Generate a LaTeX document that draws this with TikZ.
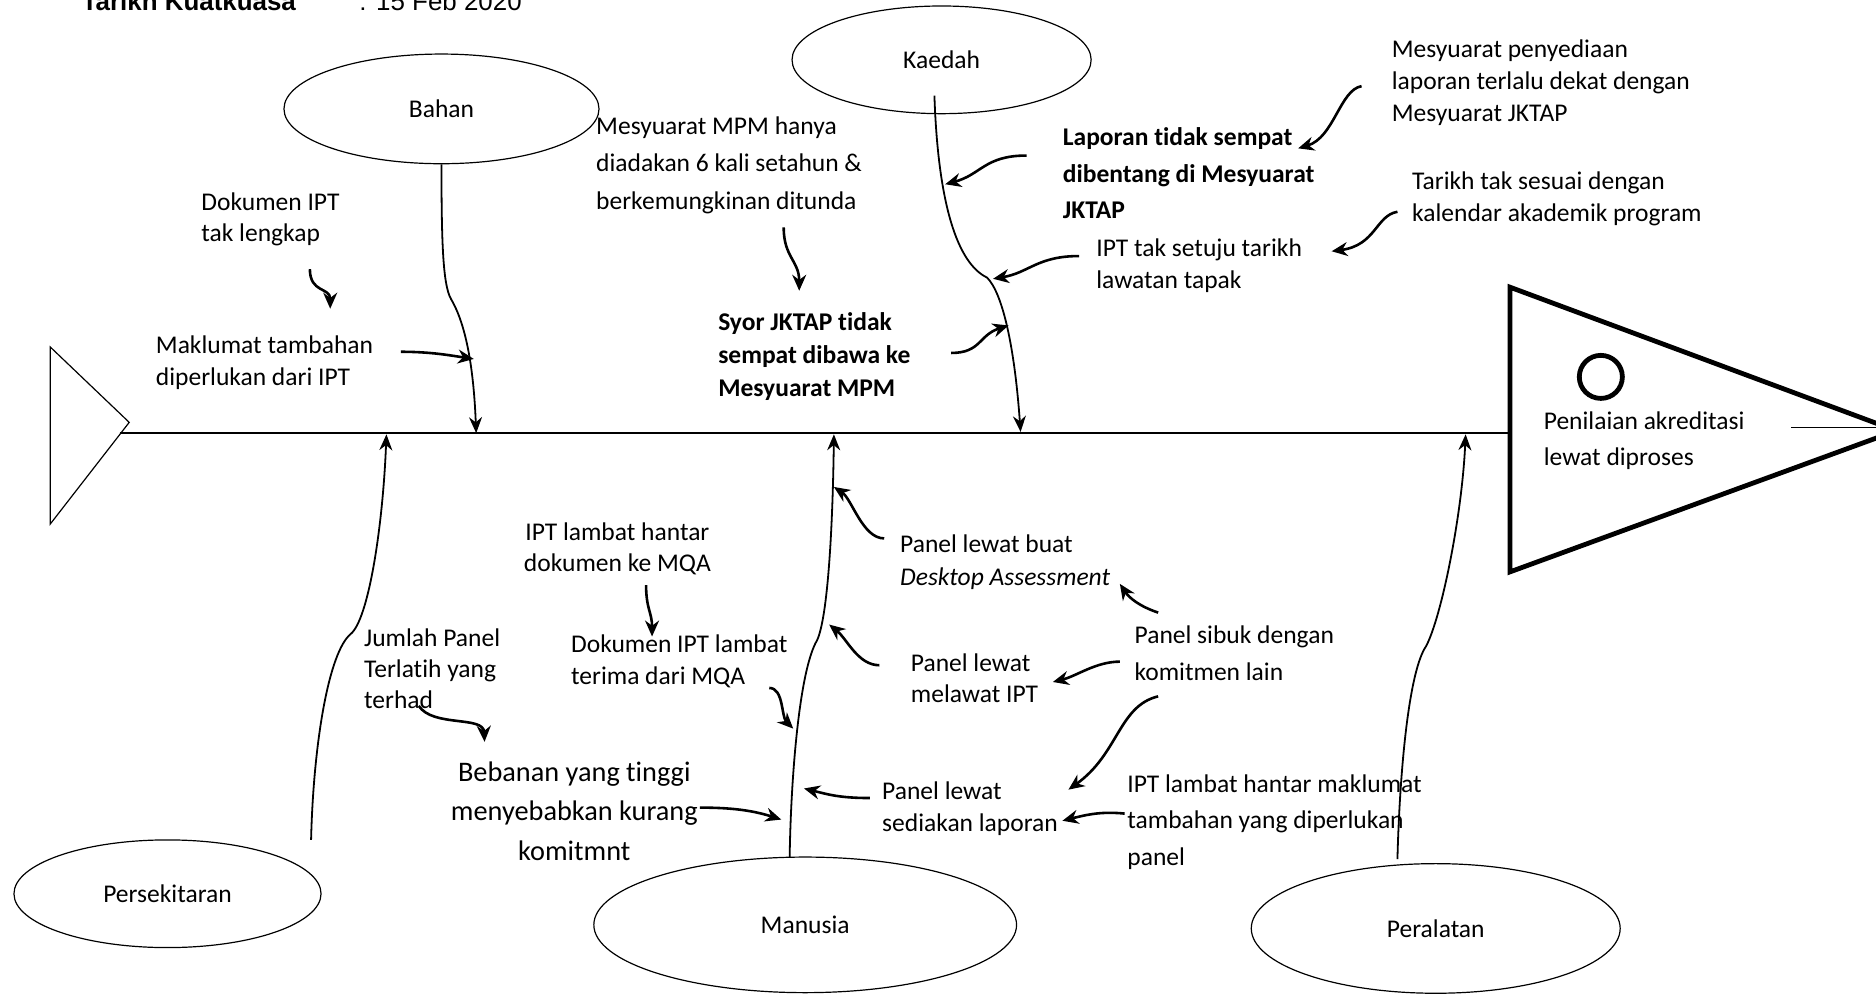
\documentclass[tikz,border=0pt]{standalone}
\usepackage{fontspec}
\setmainfont{Carlito}[Ligatures=NoCommon]
\newfontfamily\headfont{Liberation Sans}
\usetikzlibrary{shapes.geometric,arrows.meta}

\tikzset{
  category/.style={draw, ellipse, line width=0.6pt, inner sep=0pt,
    font=\fontsize{12.8}{15}\selectfont},
  causetxt/.style={align=left, anchor=west, inner sep=0pt,
    font=\fontsize{12.8}{#1}\selectfont},
  causetxt/.default=16,
  boldtxt/.style={align=left, anchor=west, inner sep=0pt,
    font=\bfseries\fontsize{12.8}{#1}\selectfont},
  bone/.style={line width=0.9pt, -{Stealth[length=8pt,width=6.5pt]}},
  subcause/.style={line width=1.3pt, -{Stealth[length=8pt,width=7pt]}},
}

\begin{document}
\begin{tikzpicture}[x=0.6pt,y=-0.6pt]
  \path[use as bounding box] (0,0) rectangle (1568,834);
  \clip (0,0) rectangle (1568,834);

  % header, cut off at the top of the page
  \node[anchor=base west, inner sep=0pt, font=\headfont\bfseries\fontsize{13}{15}\selectfont]
    (hdr) at (68,9) {Tarikh Kuatkuasa};
  \node[anchor=base west, inner sep=0pt, font=\headfont\fontsize{13}{15}\selectfont]
    (hdrdate) at (300,9) {: 15 Feb 2020};

  % tail and head of the fish
  \draw[line width=0.6pt] (42,290) -- (108,353) -- (42,438) -- cycle;
  \draw[line width=2.4pt, line join=miter] (1262,240) -- (1585,360) -- (1262,478) -- cycle;
  \draw[line width=2.4pt] (1338,315) circle[radius=10.8pt];
  \draw[line width=0.6pt] (1497,357) -- (1568,357);
  \node[causetxt=18] (effect) at (1290,368) {Penilaian akreditasi\\lewat diproses};

  % spine
  \coordinate (tail) at (100,362);
  \coordinate (head) at (1262,362);
  \draw[line width=0.9pt] (tail) -- (head);

  % categories
  \node[category, minimum width=158pt, minimum height=55pt] (bahan) at (369,91) {Bahan};
  \node[category, minimum width=150pt, minimum height=54pt] (kaedah) at (787,50) {Kaedah};
  \node[category, minimum width=154pt, minimum height=54pt] (persekitaran) at (140,747) {Persekitaran};
  \node[category, minimum width=212pt, minimum height=68pt] (manusia) at (673,773) {Manusia};
  \node[category, minimum width=185pt, minimum height=65pt] (peralatan) at (1200,776) {Peralatan};

  % bones
  \coordinate (bahanEnd) at (398,362);
  \coordinate (kaedahRoot) at (781,80);
  \coordinate (kaedahEnd) at (853,361);
  \coordinate (persRoot) at (260,702);
  \coordinate (persEnd) at (323,363);
  \coordinate (manRoot) at (660,717);
  \coordinate (manEnd) at (697,363);
  \coordinate (perRoot) at (1168,718);
  \coordinate (perEnd) at (1225,363);

  \draw[bone] (bahan.south) .. controls (369,200) and (370,238) .. (377,250)
    .. controls (390,272) and (396,310) .. (bahanEnd);
  \draw[bone] (kaedahRoot) .. controls (784,170) and (800,220) .. (825,232)
    .. controls (838,245) and (848,290) .. (kaedahEnd);
  \draw[bone] (persRoot) .. controls (262,620) and (275,545) .. (293,530)
    .. controls (308,518) and (320,440) .. (persEnd);
  \draw[bone] (manRoot) .. controls (661,650) and (668,560) .. (683,535)
    .. controls (692,515) and (696,440) .. (manEnd);
  \draw[bone] (perRoot) .. controls (1170,640) and (1178,560) .. (1192,540)
    .. controls (1205,515) and (1222,430) .. (perEnd);

  % Bahan causes
  \node[causetxt=15.6] (dokIPT) at (168,183) {Dokumen IPT\\tak lengkap};
  \node[causetxt=16.2] (maklumat) at (130,303) {Maklumat tambahan\\diperlukan dari IPT};
  \coordinate (dokIPTout) at (259,225);
  \coordinate (maklumatIn) at (276,258);
  \coordinate (maklumatOut) at (335,294);
  \coordinate (bahanA) at (396,300);
  \draw[subcause] (dokIPTout) .. controls +(0,20) and +(0,-18) .. (maklumatIn);
  \draw[subcause] (maklumatOut) .. controls +(25,0) and +(-20,-3) .. (bahanA);

  % Kaedah causes
  \node[causetxt=18.9] (mpm) at (498,138) {Mesyuarat MPM hanya\\diadakan 6 kali setahun \&\\berkemungkinan ditunda};
  \node[boldtxt=16.5] (syor) at (600,298) {Syor JKTAP tidak\\sempat dibawa ke\\Mesyuarat MPM};
  \node[boldtxt=18.3] (laporan) at (888,145) {Laporan tidak sempat\\dibentang di Mesyuarat\\JKTAP};
  \node[causetxt=16.2] (setuju) at (916,222) {IPT tak setuju tarikh\\lawatan tapak};
  \node[causetxt=15.9] (penyediaan) at (1163,69) {Mesyuarat penyediaan\\laporan terlalu dekat dengan\\Mesyuarat JKTAP};
  \node[causetxt=16.2] (kalendar) at (1180,166) {Tarikh tak sesuai dengan\\kalendar akademik program};
  \coordinate (mpmOut) at (655,190);
  \coordinate (syorIn) at (668,243);
  \coordinate (syorOut) at (795,295);
  \coordinate (kaedahA) at (843,272);
  \coordinate (laporanOut) at (858,130);
  \coordinate (kaedahB) at (790,154);
  \coordinate (setujuOut) at (902,214);
  \coordinate (kaedahC) at (830,233);
  \coordinate (penyediaanOut) at (1138,72);
  \coordinate (laporanIn) at (1085,124);
  \coordinate (kalendarOut) at (1168,177);
  \coordinate (setujuIn) at (1113,210);
  \draw[subcause] (mpmOut) .. controls +(0,25) and +(0,-25) .. (syorIn);
  \draw[subcause] (syorOut) .. controls +(25,0) and +(-25,8) .. (kaedahA);
  \draw[subcause] (laporanOut) .. controls +(-35,0) and +(30,-8) .. (kaedahB);
  \draw[subcause] (setujuOut) .. controls +(-35,0) and +(30,-5) .. (kaedahC);
  \draw[subcause] (penyediaanOut) .. controls (1120,75) and (1115,115) .. (laporanIn);
  \draw[subcause] (kalendarOut) .. controls (1150,180) and (1150,205) .. (setujuIn);

  % Persekitaran causes
  \node[causetxt=15.6] (jumlah) at (304,559) {Jumlah Panel\\Terlatih yang\\terhad};
  \node[align=center, inner sep=0pt, font=\fontsize{14.2}{20}\selectfont] (bebanan) at (480,678)
    {Bebanan yang tinggi\\menyebabkan kurang\\komitmnt};
  \coordinate (jumlahOut) at (350,590);
  \coordinate (bebananIn) at (405,620);
  \coordinate (bebananOut) at (585,675);
  \coordinate (manA) at (653,685);
  \draw[subcause] (jumlahOut) .. controls (362,608) and (404,598) .. (bebananIn);
  \draw[subcause] (bebananOut) .. controls +(25,0) and +(-25,-8) .. (manA);

  % Manusia causes
  \node[align=center, inner sep=0pt, font=\fontsize{12.8}{15.6}\selectfont] (hantarDok) at (516,459)
    {IPT lambat hantar\\dokumen ke MQA};
  \node[causetxt=16.2] (terima) at (477,553) {Dokumen IPT lambat\\terima dari MQA};
  \node[causetxt=16.2] (desktop) at (752,470) {Panel lewat buat\\\textit{Desktop Assessment}};
  \node[causetxt=15.6] (melawat) at (761,567) {Panel lewat\\melawat IPT};
  \node[causetxt=16.2] (sediakan) at (737,676) {Panel lewat\\sediakan laporan};
  \node[causetxt=18.6] (sibuk) at (948,546) {Panel sibuk dengan\\komitmen lain};
  \node[causetxt=18.3] (hantarMak) at (942,687) {IPT lambat hantar maklumat\\tambahan yang diperlukan\\panel};
  \coordinate (hantarDokOut) at (540,489);
  \coordinate (terimaIn) at (545,532);
  \coordinate (terimaOut) at (643,575);
  \coordinate (manB) at (663,609);
  \coordinate (desktopOut) at (739,450);
  \coordinate (manC) at (697,407);
  \coordinate (melawatOut) at (735,556);
  \coordinate (manD) at (693,522);
  \coordinate (sediakanOut) at (727,667);
  \coordinate (manE) at (672,659);
  \coordinate (sibukA) at (968,512);
  \coordinate (desktopIn) at (936,488);
  \coordinate (sibukB) at (936,553);
  \coordinate (melawatIn) at (880,570);
  \coordinate (sibukC) at (968,582);
  \coordinate (sediakanInA) at (893,660);
  \coordinate (hantarMakOut) at (940,680);
  \coordinate (sediakanInB) at (888,686);
  \draw[subcause] (hantarDokOut) .. controls +(0,20) and +(0,-20) .. (terimaIn);
  \draw[subcause] (terimaOut) .. controls +(12,0) and +(-10,-10) .. (manB);
  \draw[subcause] (desktopOut) .. controls +(-18,0) and +(15,10) .. (manC);
  \draw[subcause] (melawatOut) .. controls +(-18,0) and +(15,12) .. (manD);
  \draw[subcause] (sediakanOut) .. controls +(-25,0) and +(20,5) .. (manE);
  \draw[subcause] (sibukA) .. controls +(-15,-5) and +(8,12) .. (desktopIn);
  \draw[subcause] (sibukB) .. controls +(-20,0) and +(20,-5) .. (melawatIn);
  \draw[subcause] (sibukC) .. controls (935,590) and (935,630) .. (sediakanInA);
  \draw[subcause] (hantarMakOut) .. controls +(-20,-2) and +(20,-5) .. (sediakanInB);
\end{tikzpicture}
\end{document}
